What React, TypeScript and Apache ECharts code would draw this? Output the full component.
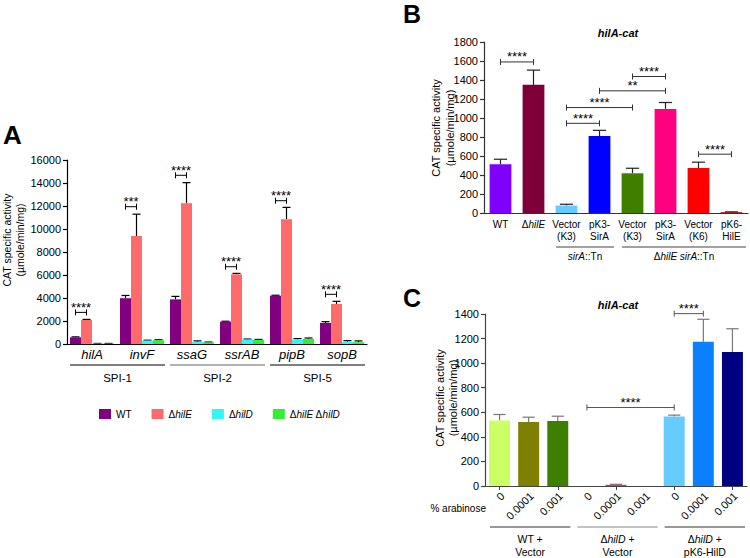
import React, { useEffect, useRef } from "react";
import * as echarts from "echarts";

const FONT = '"Liberation Sans", Arial, Helvetica, sans-serif';

// ---------- Panel A data ----------
const genesA = ["hilA", "invF", "ssaG", "ssrAB", "pipB", "sopB"];
const seriesNamesA = ["WT", "ΔhilE", "ΔhilD", "ΔhilE ΔhilD"];
const colorsA = ["#800080", "#ff6b6b", "#33f5f5", "#33ee33"];
const wtA = [580, 3980, 3880, 1940, 4200, 1830];
const hilEA = [2090, 9390, 12230, 6060, 10840, 3480];
const hilDA = [40, 300, 190, 390, 390, 200];
const hilEhilDA = [40, 330, 140, 370, 450, 160];
const wtErrA = [40, 240, 260, 40, 40, 110];
const hilEErrA = [50, 1900, 1800, 80, 1040, 230];
const hilDErrA = [10, 30, 80, 40, 80, 90];
const hilEhilDErrA = [10, 40, 30, 30, 70, 110];
const groupNamesA = ["SPI-1", "SPI-2", "SPI-5"];
const groupSpansA = [[0, 1], [2, 3], [4, 5]];
const sigCatA = [0, 1, 2, 3, 4, 5];
const sigYA = [2750, 11940, 14670, 6720, 12460, 4320];
const sigTextA = ["****", "***", "****", "****", "****", "****"];

// ---------- Panel B data ----------
const labelsB = ["WT", "ΔhilE", "Vector\n(K3)", "pK3-\nSirA", "Vector\n(K3)", "pK3-\nSirA", "Vector\n(K6)", "pK6-\nHilE"];
const valuesB = [513, 1349, 78, 810, 418, 1096, 474, 8];
const errB = [53, 155, 14, 60, 53, 67, 61, 4];
const colorsB = ["#8000ff", "#7f0038", "#66ccff", "#0000ff", "#3f7f00", "#ff0080", "#ff0000", "#990000"];
const groupNamesB = ["sirA::Tn", "ΔhilE sirA::Tn"];
const groupSpansB = [[2, 3], [4, 7]];
const sigFromB = [0, 2, 2, 3, 4, 6];
const sigToB = [1, 3, 4, 5, 5, 7];
const sigYB = [1590, 944, 1110, 1286, 1437, 619];
const sigTextB = ["****", "****", "****", "**", "****", "****"];

// ---------- Panel C data ----------
const labelsC = ["0", "0.0001", "0.001", "0", "0.0001", "0.001", "0", "0.0001", "0.001"];
const valuesC = [533, 520, 530, 0, 10, 0, 566, 1174, 1090];
const errC = [49, 40, 38, 0, 4, 0, 11, 183, 190];
const colorsC = ["#ccff66", "#808000", "#3f7f00", "#ff99cc", "#e0306f", "#990033", "#66ccff", "#0a80ff", "#000080"];
const groupNamesC = ["WT +\nVector", "ΔhilD +\nVector", "ΔhilD +\npK6-HilD"];
const groupSpansC = [[0, 2], [3, 5], [6, 8]];
const sigFromC = [3, 6];
const sigToC = [6, 7];
const sigYC = [639, 1403];
const sigTextC = ["****", "****"];

// ---------- layout ----------
const GA = { left: 67, top: 160, width: 300, height: 184 };
const GB = { left: 484, top: 42, width: 264, height: 171 };
const GC = { left: 485, top: 314, width: 262, height: 172 };

const italicize = (s: string) => s.replace(/(hil[A-Z]|sirA)/g, "{i|$1}");

function bracketRender(texts: string[], off1: number, off2: number, color: string) {
  return (params: any, api: any) => {
    const y = api.value(2);
    const p1 = api.coord([api.value(0), y]);
    const p2 = api.coord([api.value(1), y]);
    const bw = api.size([1, 0])[0];
    const x1 = p1[0] + off1 * bw;
    const x2 = p2[0] + off2 * bw;
    const py = p1[1];
    const st = { stroke: color, lineWidth: 1 };
    return {
      type: "group",
      children: [
        { type: "line", shape: { x1, y1: py, x2, y2: py }, style: st },
        { type: "line", shape: { x1, y1: py - 3, x2: x1, y2: py + 3 }, style: st },
        { type: "line", shape: { x1: x2, y1: py - 3, x2, y2: py + 3 }, style: st },
        {
          type: "text",
          style: {
            text: texts[params.dataIndex],
            x: (x1 + x2) / 2,
            y: py - 5,
            align: "center",
            verticalAlign: "middle",
            textAlign: "center",
            textVerticalAlign: "middle",
            fontSize: 13,
            fontFamily: FONT,
            fill: "#000",
          },
        },
      ],
    };
  };
}

function errRender(offFn: (k: number) => number, capFrac: number, color: string) {
  return (params: any, api: any) => {
    const x = api.value(0);
    const v = api.value(1);
    const e = api.value(2);
    const k = api.value(3);
    if (!e) return null;
    const bw = api.size([1, 0])[0];
    const p0 = api.coord([x, v]);
    const p1 = api.coord([x, v + e]);
    const cx = p0[0] + offFn(k) * bw;
    const hw = (capFrac * bw) / 2;
    const st = { stroke: color, lineWidth: 1.2 };
    return {
      type: "group",
      children: [
        { type: "line", shape: { x1: cx, y1: p0[1], x2: cx, y2: p1[1] }, style: st },
        { type: "line", shape: { x1: cx - hw, y1: p1[1], x2: cx + hw, y2: p1[1] }, style: st },
      ],
    };
  };
}

function spanLines(g: any, n: number, spans: number[][], names: string[], lineY: number, textY: number, inL: number, inR: number, colors: string[], fontSize: number, lh: number) {
  const cw = g.width / n;
  const out: any[] = [];
  spans.forEach((sp, i) => {
    const x1 = g.left + sp[0] * cw + inL;
    const x2 = g.left + (sp[1] + 1) * cw - inR;
    out.push({ type: "line", shape: { x1, y1: lineY, x2, y2: lineY }, style: { stroke: colors[i], lineWidth: 1.2 } });
    out.push({
      type: "text",
      x: (x1 + x2) / 2,
      y: textY,
      style: {
        text: italicize(names[i]),
        align: "center",
        verticalAlign: "top",
        font: `${fontSize}px ${FONT}`,
        fill: "#000",
        lineHeight: lh,
        rich: { i: { fontStyle: "italic", fontSize, fontFamily: FONT, lineHeight: lh } },
      },
    });
  });
  return out;
}

// 45-degree labels under panel C, one per category centre
function diagLabels(g: any, labels: string[], dy: number, size: number) {
  const cw = g.width / labels.length;
  return labels.map((t, i) => ({
    type: "text",
    x: g.left + (i + 0.5) * cw + 3,
    y: g.top + g.height + dy,
    rotation: Math.PI / 4,
    style: { text: t, align: "right", verticalAlign: "middle", font: `${size}px ${FONT}`, fill: "#000" },
  }));
}

function yTitle(x1: number, x2: number, y: number, size: number) {
  return [
    { type: "text", x: x1, y, rotation: Math.PI / 2, style: { text: "CAT specific activity", align: "center", verticalAlign: "middle", font: `${size}px ${FONT}`, fill: "#000" } },
    { type: "text", x: x2, y, rotation: Math.PI / 2, style: { text: "(µmole/min/mg)", align: "center", verticalAlign: "middle", font: `${size}px ${FONT}`, fill: "#000" } },
  ];
}

function buildOption() {
  const valsA = [wtA, hilEA, hilDA, hilEhilDA];
  const errsA = [wtErrA, hilEErrA, hilDErrA, hilEhilDErrA];
  const BW_A = 0.22;

  const yAxisBase = (grid: number, max: number, interval: number, color: string) => ({
    type: "value",
    gridIndex: grid,
    min: 0,
    max,
    interval,
    splitLine: { show: false },
    axisLine: { show: true, lineStyle: { color, width: 1.2 } },
    axisTick: { show: true, length: 4, lineStyle: { color, width: 1.2 } },
    axisLabel: { fontFamily: FONT, fontSize: 11, color: "#000", margin: 6, formatter: (v: number) => String(v) },
  });

  const series: any[] = [];
  valsA.forEach((vals, k) => {
    series.push({
      type: "bar",
      name: seriesNamesA[k],
      xAxisIndex: 0,
      yAxisIndex: 0,
      data: vals,
      barWidth: "22%",
      barGap: "0%",
      itemStyle: { color: colorsA[k] },
    });
  });
  const errDataA: number[][] = [];
  valsA.forEach((vals, k) => vals.forEach((v, i) => errDataA.push([i, v, errsA[k][i], k])));
  series.push({
    type: "custom",
    xAxisIndex: 0,
    yAxisIndex: 0,
    clip: false,
    encode: { x: 0, y: 1 },
    data: errDataA,
    renderItem: errRender((k) => (k - 1.5) * BW_A, 0.16, "#000"),
  });
  series.push({
    type: "custom",
    xAxisIndex: 0,
    yAxisIndex: 0,
    clip: false,
    encode: { x: 0, y: 2 },
    data: sigCatA.map((c, i) => [c, c, sigYA[i]]),
    renderItem: bracketRender(sigTextA, -1.5 * BW_A, -0.5 * BW_A, "#000"),
  });

  // Panel B
  series.push({
    type: "bar",
    name: "B",
    xAxisIndex: 1,
    yAxisIndex: 1,
    barWidth: "66%",
    data: valuesB.map((v, i) => ({ value: v, itemStyle: { color: colorsB[i] } })),
  });
  series.push({
    type: "custom",
    xAxisIndex: 1,
    yAxisIndex: 1,
    clip: false,
    encode: { x: 0, y: 1 },
    data: valuesB.map((v, i) => [i, v, errB[i], 0]),
    renderItem: errRender(() => 0, 0.4, "#222"),
  });
  series.push({
    type: "custom",
    xAxisIndex: 1,
    yAxisIndex: 1,
    clip: false,
    encode: { x: 0, y: 2 },
    data: sigFromB.map((f, i) => [f, sigToB[i], sigYB[i]]),
    renderItem: bracketRender(sigTextB, 0, 0, "#333"),
  });

  // Panel C
  series.push({
    type: "bar",
    name: "C",
    xAxisIndex: 2,
    yAxisIndex: 2,
    barWidth: "72%",
    data: valuesC.map((v, i) => ({ value: v, itemStyle: { color: colorsC[i] } })),
  });
  series.push({
    type: "custom",
    xAxisIndex: 2,
    yAxisIndex: 2,
    clip: false,
    encode: { x: 0, y: 1 },
    data: valuesC.map((v, i) => [i, v, errC[i], 0]),
    renderItem: errRender(() => 0, 0.42, "#777"),
  });
  series.push({
    type: "custom",
    xAxisIndex: 2,
    yAxisIndex: 2,
    clip: false,
    encode: { x: 0, y: 2 },
    data: sigFromC.map((f, i) => [f, sigToC[i], sigYC[i]]),
    renderItem: bracketRender(sigTextC, 0, 0, "#555"),
  });

  const graphic: any[] = [
    { type: "text", x: 3, y: 135, style: { text: "A", verticalAlign: "middle", font: `bold 26px ${FONT}`, fill: "#000" } },
    { type: "text", x: 403, y: 14, style: { text: "B", verticalAlign: "middle", font: `bold 25px ${FONT}`, fill: "#000" } },
    { type: "text", x: 403, y: 298, style: { text: "C", verticalAlign: "middle", font: `bold 25px ${FONT}`, fill: "#000" } },
    { type: "text", x: 618, y: 33, style: { text: "hilA-cat", align: "center", verticalAlign: "middle", font: `italic bold 11px ${FONT}`, fill: "#000" } },
    { type: "text", x: 618, y: 305, style: { text: "hilA-cat", align: "center", verticalAlign: "middle", font: `italic bold 11px ${FONT}`, fill: "#000" } },
    { type: "text", x: 486, y: 508, style: { text: "% arabinose", align: "right", verticalAlign: "middle", font: `10px ${FONT}`, fill: "#000" } },
    ...yTitle(7, 20, 240, 10.5),
    ...yTitle(436, 450, 128, 11),
    ...yTitle(440, 453, 398, 11),
    ...diagLabels(GC, labelsC, 8, 11),
    ...spanLines(GA, genesA.length, groupSpansA, groupNamesA, 365, 371, 3, 2, ["#000", "#666", "#000"], 11.5, 13),
    ...spanLines(GB, labelsB.length, groupSpansB, groupNamesB, 247, 250, 6, 2, ["#444", "#444"], 10, 12),
    ...spanLines(GC, labelsC.length, groupSpansC, groupNamesC, 527, 532, 5, 2, ["#333", "#888", "#333"], 10.5, 13),
  ];

  return {
    animation: false,
    backgroundColor: "#fff",
    textStyle: { fontFamily: FONT },
    grid: [GA, GB, GC].map((g) => ({ left: g.left, top: g.top, width: g.width, height: g.height, containLabel: false })),
    legend: {
      data: seriesNamesA,
      left: 94,
      top: 404,
      itemWidth: 12,
      itemHeight: 10,
      itemGap: 20,
      icon: "rect",
      selectedMode: false,
      formatter: (n: string) => italicize(n),
      textStyle: {
        fontFamily: FONT,
        fontSize: 10,
        color: "#000",
        rich: { i: { fontStyle: "italic", fontSize: 10, fontFamily: FONT, color: "#000" } },
      },
    },
    xAxis: [
      {
        type: "category",
        gridIndex: 0,
        data: genesA,
        axisLine: { show: true, lineStyle: { color: "#000", width: 1.2 } },
        axisTick: { show: false },
        axisLabel: { interval: 0, fontFamily: FONT, fontSize: 13, fontStyle: "italic", color: "#000", margin: 4 },
      },
      {
        type: "category",
        gridIndex: 1,
        data: labelsB,
        axisLine: { show: true, lineStyle: { color: "#333", width: 1.2 } },
        axisTick: { show: false },
        axisLabel: {
          interval: 0,
          fontFamily: FONT,
          fontSize: 10,
          color: "#000",
          margin: 5,
          lineHeight: 12,
          formatter: (_v: string, i: number) => italicize(labelsB[i]),
          rich: { i: { fontStyle: "italic", fontSize: 10, fontFamily: FONT, lineHeight: 12, color: "#000" } },
        },
      },
      {
        type: "category",
        gridIndex: 2,
        data: labelsC,
        axisLine: { show: true, lineStyle: { color: "#444", width: 1.2 } },
        axisTick: { show: true, alignWithLabel: true, length: 4, lineStyle: { color: "#444" } },
        axisLabel: { show: false },
      },
    ],
    yAxis: [yAxisBase(0, 16000, 2000, "#000"), yAxisBase(1, 1800, 200, "#333"), yAxisBase(2, 1400, 200, "#444")],
    series,
    graphic,
  };
}

export default function App() {
  const ref = useRef<HTMLDivElement>(null);
  useEffect(() => {
    const chart = echarts.init(ref.current!, null, { renderer: "svg" });
    chart.setOption(buildOption() as any);
    return () => chart.dispose();
  }, []);
  return <div ref={ref} style={{ position: "fixed", left: 0, top: 0, width: 750, height: 558, background: "#fff" }} />;
}
